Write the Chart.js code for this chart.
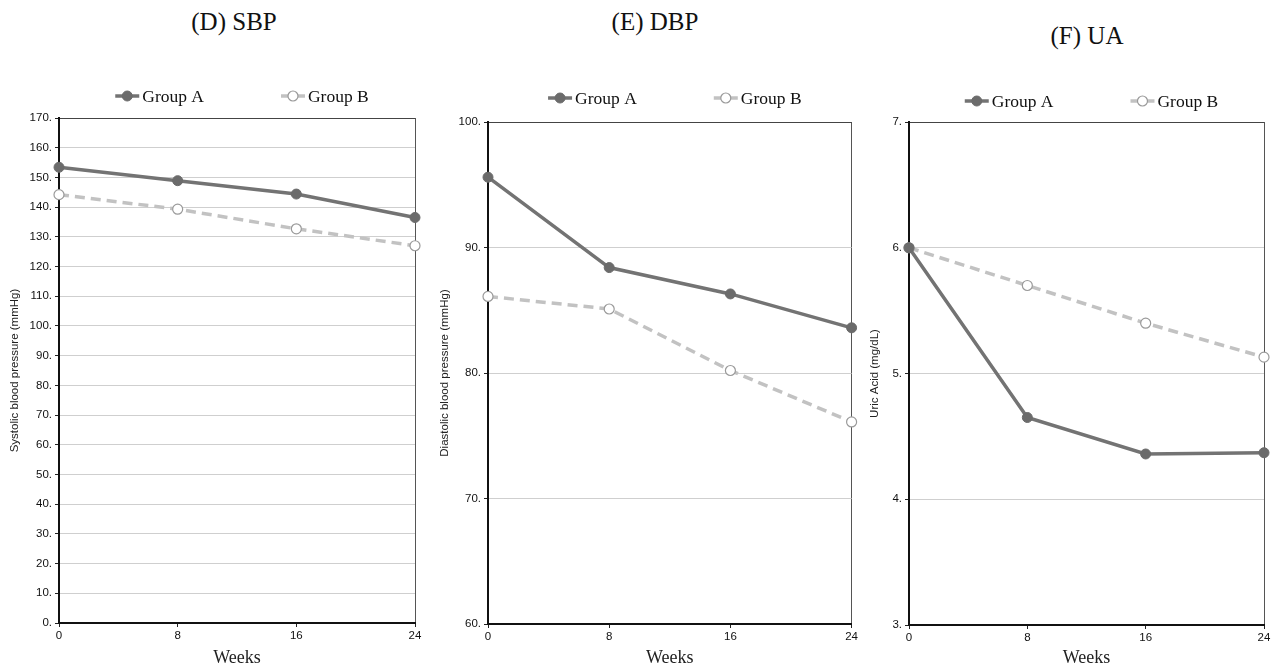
<!DOCTYPE html>
<html>
<head>
<meta charset="utf-8">
<script src="https://cdn.jsdelivr.net/npm/chart.js@4/dist/chart.umd.min.js"></script>
<style>
  html, body { margin: 0; padding: 0; background: #fff; }
  body { width: 1280px; height: 669px; position: relative; overflow: hidden; }
  .panel { position: absolute; top: 0; height: 669px; }
  .title { position: absolute; font-family: 'Liberation Serif', serif; font-size: 25px; color: #111; white-space: nowrap; transform: translate(-50%, -50%); }
</style>
</head>
<body>
<div class="title" style="left:234px; top:22px">(D) SBP</div>
<div class="title" style="left:655px; top:22px">(E) DBP</div>
<div class="title" style="left:1087px; top:36px">(F) UA</div>

<div class="panel" style="left:0; width:430px"><canvas id="chart-sbp"></canvas></div>
<div class="panel" style="left:430px; width:430px"><canvas id="chart-dbp"></canvas></div>
<div class="panel" style="left:860px; width:420px"><canvas id="chart-ua"></canvas></div>

<script>
// ---- data ----
const weeks = [0, 8, 16, 24];
const seriesNames = ['Group A', 'Group B'];

const sbpA = [153.4, 148.9, 144.4, 136.5];
const sbpB = [144.2, 139.3, 132.7, 127.0];

const dbpA = [95.6, 88.4, 86.3, 83.6];
const dbpB = [86.1, 85.1, 80.2, 76.1];

const uaA = [6.0, 4.65, 4.36, 4.37];
const uaB = [6.0, 5.70, 5.40, 5.13];

const COLOR_A = '#737373';
const COLOR_B = '#c2c2c2';
const SANS = "'Liberation Sans', Arial, sans-serif";
const SERIF = "'Liberation Serif', 'Times New Roman', serif";

// legend drawn as line + marker, like the original figure
const lineLegend = {
  id: 'lineLegend',
  afterDraw(chart, args, opts) {
    const ctx = chart.ctx;
    const area = chart.chartArea;
    const markW = 24, gap = 3, itemGap = 77;
    ctx.save();
    ctx.font = '17.5px ' + SERIF;
    const items = chart.data.datasets.map(ds => ({ ds, w: markW + gap + ctx.measureText(ds.label).width }));
    const total = items.reduce((s, it) => s + it.w, 0) + itemGap * (items.length - 1);
    let x = (area.left + area.right) / 2 + 5 - total / 2;
    const y = area.top - opts.offset;
    items.forEach(({ ds, w }) => {
      ctx.strokeStyle = ds.borderColor;
      ctx.lineWidth = ds.borderWidth;
      ctx.setLineDash([]);
      ctx.beginPath();
      ctx.moveTo(x, y);
      ctx.lineTo(x + markW, y);
      ctx.stroke();
      ctx.beginPath();
      ctx.arc(x + markW / 2, y, 5, 0, Math.PI * 2);
      ctx.fillStyle = ds.pointBackgroundColor;
      ctx.fill();
      ctx.lineWidth = ds.pointBorderWidth;
      ctx.strokeStyle = ds.pointBorderColor;
      ctx.stroke();
      ctx.fillStyle = '#111';
      ctx.textBaseline = 'middle';
      ctx.fillText(ds.label, x + markW + gap, y + 1);
      x += w + itemGap;
    });
    ctx.restore();
  }
};

function makeDatasets(a, b) {
  return [
    {
      label: seriesNames[0], data: a,
      borderColor: COLOR_A, borderWidth: 3.5,
      pointRadius: 5, pointBackgroundColor: '#6b6b6b', pointBorderColor: '#6b6b6b', pointBorderWidth: 1,
      clip: false
    },
    {
      label: seriesNames[1], data: b,
      borderColor: COLOR_B, borderWidth: 3.5, borderDash: [10, 6],
      pointRadius: 5, pointBackgroundColor: '#ffffff', pointBorderColor: '#9a9a9a', pointBorderWidth: 1.2,
      clip: false
    }
  ];
}

function makeChart(id, cfg) {
  return new Chart(document.getElementById(id), {
    type: 'line',
    data: { labels: weeks, datasets: makeDatasets(cfg.a, cfg.b) },
    options: {
      responsive: true,
      maintainAspectRatio: false,
      animation: false,
      layout: { padding: { top: cfg.top, right: cfg.right, left: 0, bottom: 0 } },
      plugins: {
        legend: { display: false },
        title: { display: false },
        tooltip: { enabled: false },
        lineLegend: { offset: cfg.legendOffset }
      },
      scales: {
        x: {
          offset: false,
          afterFit: s => { s.height = cfg.bottom; },
          ticks: { color: '#111', font: { family: SANS, size: 11.5 }, padding: 2, maxRotation: 0 },
          grid: {
            color: c => c.index === weeks.length - 1 ? '#555' : 'rgba(0,0,0,0)',
            tickColor: '#222', tickLength: 4, lineWidth: 1
          },
          border: { color: '#111', width: 2 },
          title: { display: true, text: 'Weeks', color: '#222', font: { family: SERIF, size: 18 }, padding: { top: 0, bottom: 0 } }
        },
        y: {
          min: cfg.min, max: cfg.max,
          afterFit: s => { s.width = cfg.left; },
          ticks: {
            stepSize: cfg.step, color: '#111', font: { family: SANS, size: 11.5 }, padding: 3,
            callback: v => v + '.'
          },
          grid: {
            color: c => c.tick && c.tick.value === cfg.max ? '#444' : '#cfcfcf',
            tickColor: '#222', tickLength: 4, lineWidth: 1
          },
          border: { color: '#111', width: 2 },
          title: { display: true, text: cfg.yTitle, color: '#222', font: { family: SANS, size: 11.5 }, padding: { top: 8, bottom: 0 } }
        }
      }
    },
    plugins: [lineLegend]
  });
}

makeChart('chart-sbp', { a: sbpA, b: sbpB, min: 0, max: 170, step: 10, yTitle: 'Systolic blood pressure (mmHg)',
  top: 118, right: 15, left: 59, bottom: 46, legendOffset: 22 });
makeChart('chart-dbp', { a: dbpA, b: dbpB, min: 60, max: 100, step: 10, yTitle: 'Diastolic blood pressure (mmHg)',
  top: 122, right: 8, left: 58, bottom: 45, legendOffset: 24 });
makeChart('chart-ua', { a: uaA, b: uaB, min: 3, max: 7, step: 1, yTitle: 'Uric Acid (mg/dL)',
  top: 122, right: 16, left: 49, bottom: 44, legendOffset: 21 });
</script>
</body>
</html>
